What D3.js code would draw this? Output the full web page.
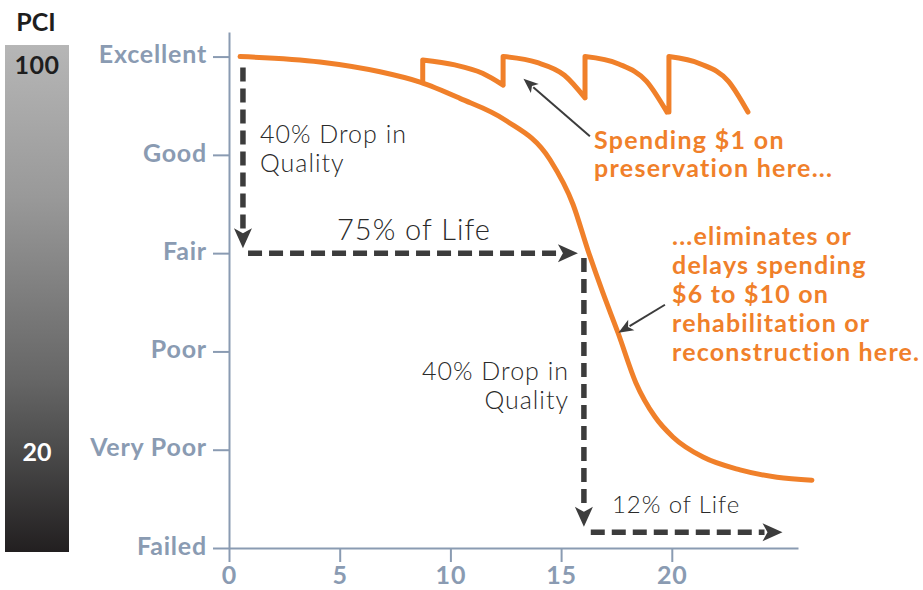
<!DOCTYPE html>
<html lang="en">
	<head>
		<meta charset="utf-8">
		<title>Pavement condition over time</title>
		<script type="text/javascript" src="https://cdn.jsdelivr.net/npm/d3@7"></script>
		<style type="text/css">
			body { margin: 0; background: #fff; }
			text { font-family: Lato, "Open Sans", sans-serif; }
		</style>
	</head>
	<body>
		<script type="text/javascript">

			//Size of the page
			var w = 923;
			var h = 590;

			//Axis ticks and labels
			var yearTicks = [0, 5, 10, 15, 20];
			var pciTicks = [0, 20, 40, 60, 80, 100];
			var conditionLabels = ["Failed", "Very Poor", "Poor", "Fair", "Good", "Excellent"];

			//Main deterioration curve (years, PCI)
			var curveYears = [0.5, 4.11, 6.82, 8.63, 10.43, 12.47, 14.5, 15.54, 16.21, 16.89, 17.57, 18.38, 19.24, 20.05, 21.41, 23.08, 24.75, 26.33];
			var curvePCI   = [100, 98.9, 96.9, 94.8, 91.5, 87.1, 79.0, 69.9, 60.6, 51.9, 43.8, 33.6, 26.7, 22.6, 18.5, 15.9, 14.4, 13.8];

			//Preservation treatments: each tooth starts back near 100 and decays
			var toothYears = [
				[8.75, 10.2, 11.45, 12.38],
				[12.38, 13.9, 15.15, 16.08],
				[16.08, 17.6, 18.85, 19.78],
				[19.87, 21.3, 22.55, 23.44]
			];
			var toothPCI = [
				[99.3, 98.3, 96.6, 94.2],
				[100, 98.8, 96.2, 91.6],
				[100, 98.5, 95.0, 88.7],
				[100, 98.5, 95.0, 88.7]
			];
			var firstToothBase = 94.8;

			//Dashed arrows [x1, pci1, x2, pci2]
			var dropArrows = [
				[0.63, 97.8, 0.63, 61.0],
				[0.86, 60, 15.76, 60],
				[16.03, 59, 16.03, 4.3],
				[16.34, 3.2, 25.0, 3.2]
			];
			//Thin pointer arrows [x1, pci1, x2, pci2]
			var pointerArrows = [
				[16.3, 83.8, 13.3, 95.5],
				[19.69, 49.5, 17.59, 43.8]
			];

			var orange = "#f0802a";
			var dark = "#3c3c3c";
			var axisColor = "#8a9bb2";

			//Scales
			var xScale = d3.scaleLinear()
							.domain([0, 25.7])
							.range([229, 798]);
			var yScale = d3.scaleLinear()
							.domain([0, 105])
							.range([548, 32]);

			var svg = d3.select("body")
						.append("svg")
						.attr("width", w)
						.attr("height", h);

			//PCI gradient bar
			var grad = svg.append("defs")
						  .append("linearGradient")
						  .attr("id", "pciGrad")
						  .attr("x1", 0).attr("y1", 0)
						  .attr("x2", 0).attr("y2", 1);
			[[0, "#b6b6b6"], [0.3, "#999999"], [0.66, "#666666"], [0.8, "#4b4b4b"], [1, "#221f20"]].forEach(function(s) {
				grad.append("stop").attr("offset", s[0]).attr("stop-color", s[1]);
			});
			svg.append("rect")
			   .attr("x", 5).attr("y", 45)
			   .attr("width", 64).attr("height", 507)
			   .attr("fill", "url(#pciGrad)");
			svg.append("text").text("PCI")
			   .attr("x", 36).attr("y", 31)
			   .attr("text-anchor", "middle")
			   .attr("font-size", "25px").attr("font-weight", "bold")
			   .attr("fill", "#1e1e1e");
			svg.append("text").text("100")
			   .attr("x", 37).attr("y", 74)
			   .attr("text-anchor", "middle")
			   .attr("font-size", "25px").attr("font-weight", "bold")
			   .attr("letter-spacing", "0.5px")
			   .attr("fill", "#1e1e1e");
			svg.append("text").text("20")
			   .attr("x", 37).attr("y", 461)
			   .attr("text-anchor", "middle")
			   .attr("font-size", "25px").attr("font-weight", "bold")
			   .attr("fill", "#ffffff");

			//Axes
			var yAxis = d3.axisLeft(yScale)
						  .tickValues(pciTicks)
						  .tickSize(16)
						  .tickSizeOuter(0)
						  .tickPadding(6)
						  .tickFormat(function(d, i) { return conditionLabels[i]; });
			var yg = svg.append("g").attr("transform", "translate(" + xScale(0) + ",0)").call(yAxis);

			var xAxis = d3.axisBottom(xScale)
						  .tickValues(yearTicks)
						  .tickSize(14)
						  .tickSizeOuter(0)
						  .tickPadding(5);
			var xg = svg.append("g").attr("transform", "translate(0," + yScale(0) + ")").call(xAxis);

			[yg, xg].forEach(function(g) {
				g.selectAll("path, line").attr("stroke", axisColor).attr("stroke-width", 2);
				g.selectAll("text")
				 .attr("fill", axisColor)
				 .attr("font-size", "25px")
				 .attr("font-weight", "bold")
				 .attr("letter-spacing", "0.8px")
				 .attr("font-family", "Lato, sans-serif");
			});
			yg.selectAll("text").attr("dy", "0.25em");
			xg.selectAll("text").attr("dy", "0.68em");

			//Main curve
			var line = d3.line()
						 .x(function(d) { return xScale(d[0]); })
						 .y(function(d) { return yScale(d[1]); })
						 .curve(d3.curveMonotoneX);

			svg.append("path")
			   .datum(d3.zip(curveYears, curvePCI))
			   .attr("d", line)
			   .attr("fill", "none")
			   .attr("stroke", orange)
			   .attr("stroke-width", 5)
			   .attr("stroke-linecap", "round");

			//Preservation sawtooth
			var teeth = toothYears.map(function(ys, i) { return d3.zip(ys, toothPCI[i]); });
			var sawPath = "";
			teeth.forEach(function(pts, i) {
				var base = i == 0 ? [pts[0][0], firstToothBase] : [pts[0][0], teeth[i - 1][teeth[i - 1].length - 1][1]];
				sawPath += "M" + xScale(base[0]) + "," + yScale(base[1]) + line(pts).replace(/^M/, "L");
			});
			svg.append("path")
			   .attr("d", sawPath)
			   .attr("fill", "none")
			   .attr("stroke", orange)
			   .attr("stroke-width", 5)
			   .attr("stroke-linecap", "round")
			   .attr("stroke-linejoin", "round");

			//Arrow helper: shaft ends at base of head, head is a triangle
			function drawArrow(a, opts) {
				var x1 = xScale(a[0]), y1 = yScale(a[1]), x2 = xScale(a[2]), y2 = yScale(a[3]);
				var ang = Math.atan2(y2 - y1, x2 - x1);
				var bx = x2 - opts.len * Math.cos(ang), by = y2 - opts.len * Math.sin(ang);
				svg.append("line")
				   .attr("x1", x1).attr("y1", y1)
				   .attr("x2", bx + Math.cos(ang) * 2).attr("y2", by + Math.sin(ang) * 2)
				   .attr("stroke", opts.color)
				   .attr("stroke-width", opts.width)
				   .attr("stroke-dasharray", opts.dash || null);
				var px = -Math.sin(ang) * opts.half, py = Math.cos(ang) * opts.half;
				svg.append("path")
				   .attr("d", "M" + x2 + "," + y2 + "L" + (bx + px) + "," + (by + py) +
							  "L" + (bx + Math.cos(ang) * opts.len * 0.25) + "," + (by + Math.sin(ang) * opts.len * 0.25) +
							  "L" + (bx - px) + "," + (by - py) + "Z")
				   .attr("fill", opts.color);
			}

			dropArrows.forEach(function(a) {
				drawArrow(a, { color: dark, width: 5.5, dash: "14,7", len: 20, half: 9 });
			});
			pointerArrows.forEach(function(a) {
				drawArrow(a, { color: dark, width: 2, len: 15, half: 6 });
			});

			//Annotation text
			function lines(arr, x, y0, step, size, weight, color, spacing, anchor) {
				arr.forEach(function(t, i) {
					svg.append("text").text(t)
					   .attr("x", x).attr("y", y0 + i * step)
					   .attr("font-size", size)
					   .attr("font-weight", weight)
					   .attr("letter-spacing", spacing)
					   .attr("fill", color)
					   .attr("text-anchor", anchor || "start");
				});
			}
			lines(["40% Drop in", "Quality"], 260, 143, 29, "25px", 300, "#2a2a2a", "1px");
			lines(["75% of Life"], 337, 240, 0, "29px", 300, "#2a2a2a", "1px");
			lines(["40% Drop in", "Quality"], 569, 380, 29, "25px", 300, "#2a2a2a", "1px", "end");
			lines(["12% of Life"], 612, 513, 0, "24px", 300, "#2a2a2a", "0.9px");
			lines(["Spending $1 on", "preservation here..."], 594, 149, 28, "25px", "bold", orange, "1.3px");
			lines(["...eliminates or", "delays spending", "$6 to $10 on", "rehabilitation or", "reconstruction here."], 672, 245, 29, "25px", "bold", orange, "1.2px");

		</script>
	</body>
</html>
